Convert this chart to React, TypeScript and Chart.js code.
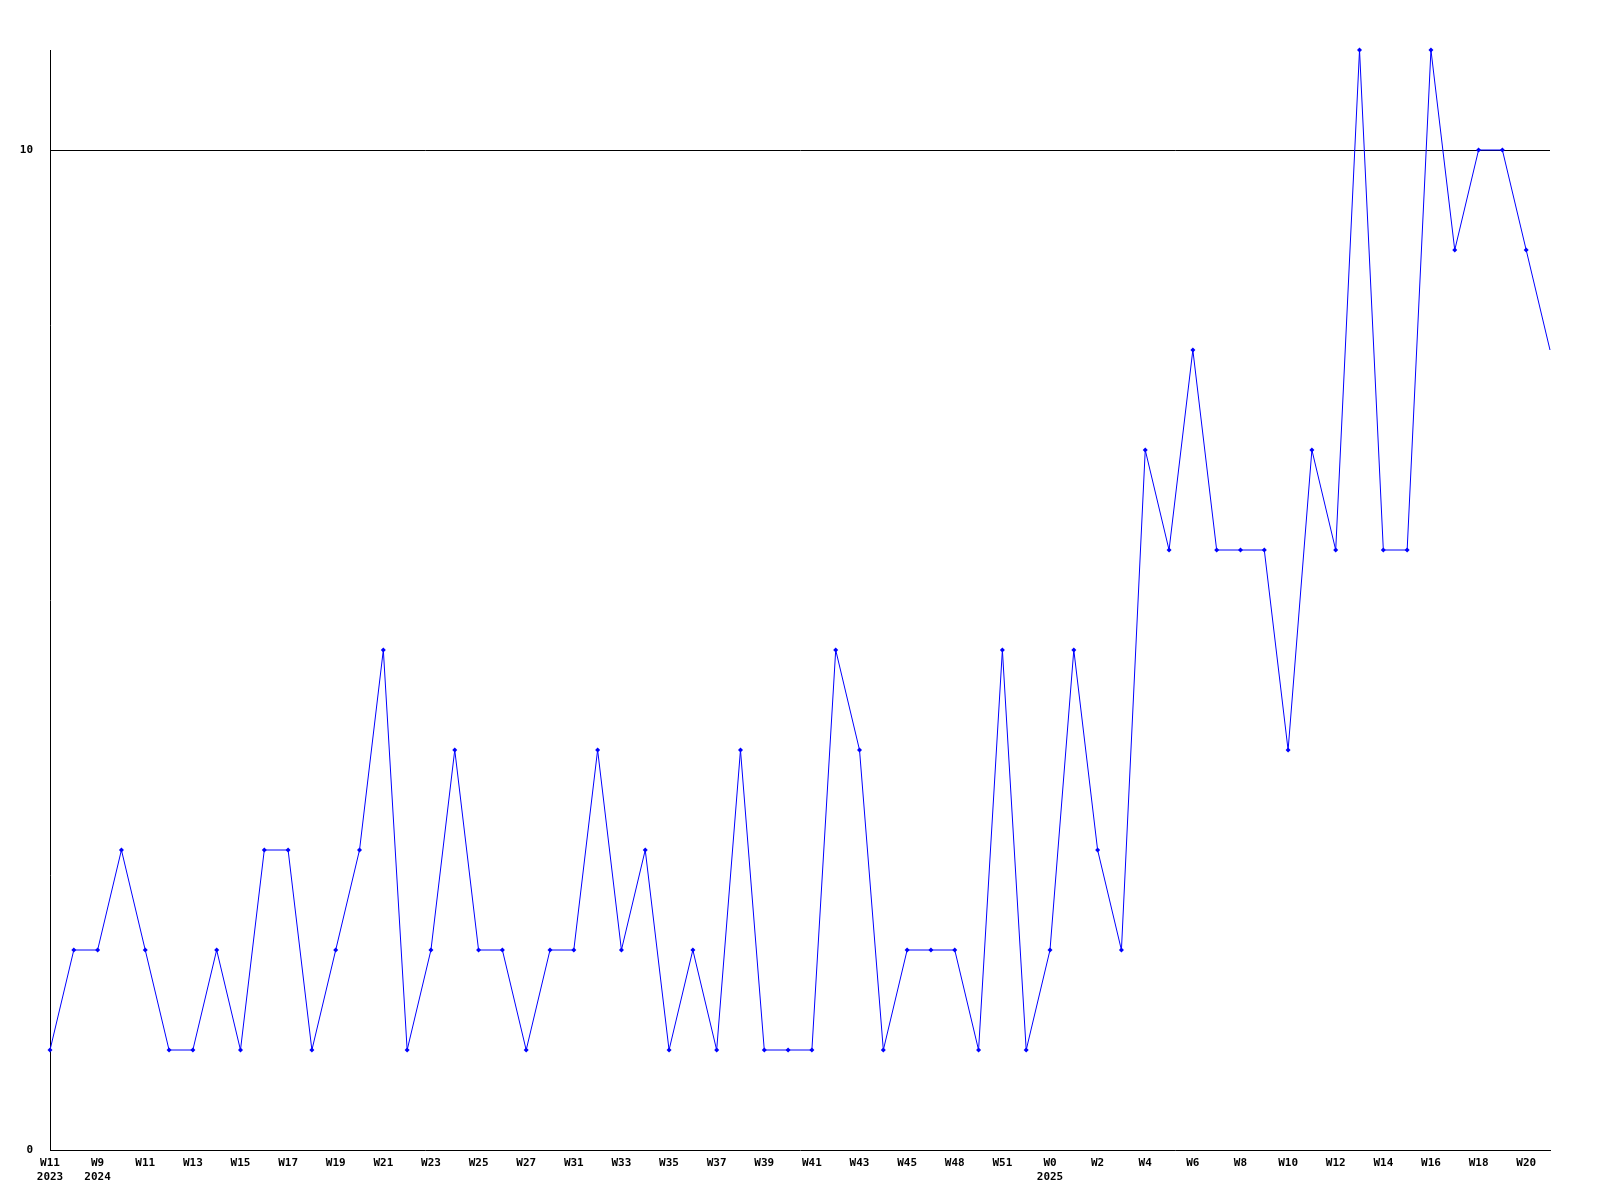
import React, { useEffect, useRef } from "react";
import { Chart, registerables } from "chart.js";

Chart.register(...registerables);

const weeks: string[] = [
  "W11", "W8", "W9", "W10", "W11", "W12", "W13", "W14", "W15", "W16",
  "W17", "W18", "W19", "W20", "W21", "W22", "W23", "W24", "W25", "W26",
  "W27", "W28", "W31", "W32", "W33", "W34", "W35", "W36", "W37", "W38",
  "W39", "W40", "W41", "W42", "W43", "W44", "W45", "W46", "W48", "W49",
  "W51", "W52", "W0", "W1", "W2", "W3", "W4", "W5", "W6", "W7",
  "W8", "W9", "W10", "W11", "W12", "W13", "W14", "W15", "W16", "W17",
  "W18", "W19", "W20", "W21",
];

const years: Record<number, string> = { 0: "2023", 2: "2024", 42: "2025" };

const values: number[] = [
  1, 2, 2, 3, 2, 1, 1, 2, 1, 3,
  3, 1, 2, 3, 5, 1, 2, 4, 2, 2,
  1, 2, 2, 4, 2, 3, 1, 2, 1, 4,
  1, 1, 1, 5, 4, 1, 2, 2, 2, 1,
  5, 1, 2, 5, 3, 2, 7, 6, 8, 6,
  6, 6, 4, 7, 6, 11, 6, 6, 11, 9,
  10, 10, 9, 8,
];

const FONT = { family: "'DejaVu Sans Mono', monospace", size: 11, weight: "bold" as const };

export default function App() {
  const ref = useRef<HTMLCanvasElement | null>(null);

  useEffect(() => {
    if (!ref.current) return;
    const labels = weeks.map((w, i) => (years[i] ? [w, years[i]] : w));
    const radii = values.map((_, i) => (i === values.length - 1 ? 0 : 2.5));
    const chart = new Chart(ref.current, {
      type: "line",
      data: {
        labels,
        datasets: [
          {
            data: values,
            borderColor: "#0000ff",
            backgroundColor: "#0000ff",
            borderWidth: 1,
            pointStyle: "rectRot",
            pointRadius: radii,
            pointBorderWidth: 0,
            pointHoverRadius: radii,
            tension: 0,
            clip: false,
          } as any,
        ],
      },
      options: {
        responsive: false,
        animation: false,
        events: [],
        layout: { padding: { top: 50, right: 50, left: 0, bottom: 0 } },
        plugins: { legend: { display: false }, tooltip: { enabled: false } },
        scales: {
          x: {
            offset: false,
            grid: { display: false, drawTicks: false },
            border: { display: true, color: "#000000", width: 1 },
            ticks: {
              autoSkip: false,
              maxRotation: 0,
              minRotation: 0,
              padding: 6,
              color: "#000000",
              font: { ...FONT, lineHeight: 1.3 },
              callback: function (this: any, _v: any, i: number) {
                if (i % 2 !== 0) return "";
                return labels[i] as any;
              },
            },
            afterFit: (s: any) => {
              s.height = 50;
            },
          },
          y: {
            min: 0,
            max: 11,
            grid: {
              drawTicks: false,
              color: (ctx: any) => (ctx.tick && ctx.tick.value === 10 ? "#000000" : "rgba(0,0,0,0)"),
              lineWidth: 1,
            },
            border: { display: true, color: "#000000", width: 1 },
            ticks: {
              stepSize: 10,
              includeBounds: false,
              padding: 17,
              color: "#000000",
              font: FONT,
            },
            afterFit: (s: any) => {
              s.width = 50;
            },
          },
        },
      },
    });
    return () => chart.destroy();
  }, []);

  return (
    <div style={{ position: "absolute", left: 0, top: 0, width: 1600, height: 1200, background: "#ffffff" }}>
      <canvas ref={ref} width={1600} height={1200} />
    </div>
  );
}
